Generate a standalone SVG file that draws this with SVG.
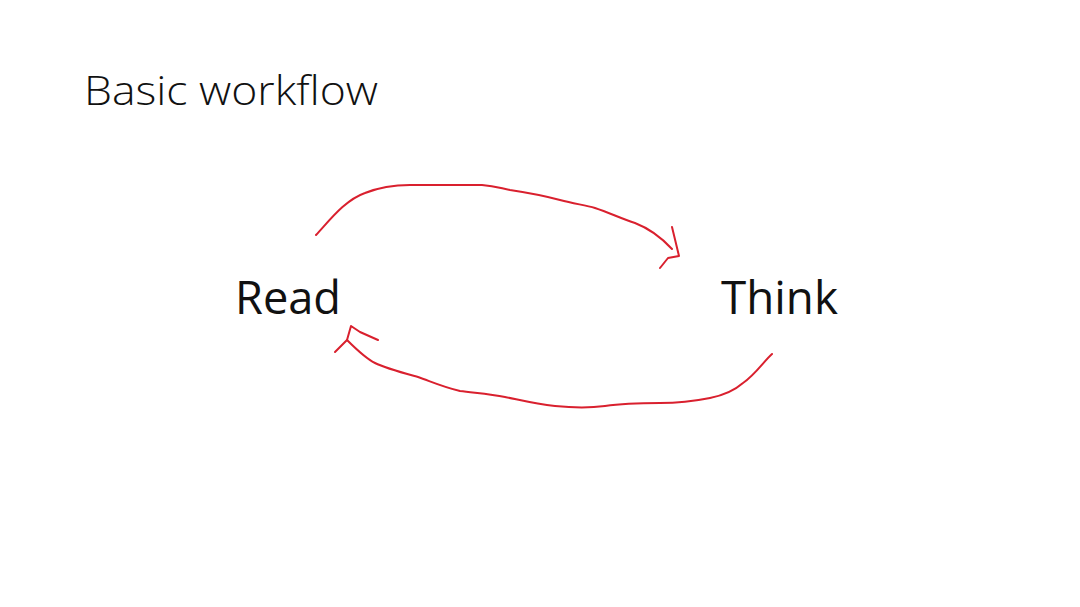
<svg xmlns="http://www.w3.org/2000/svg" width="1080" height="607" viewBox="0 0 1080 607">
<style>
.t{font-family:"Open Sans","Noto Sans","Liberation Sans",sans-serif;fill:#111}
.c{fill:none;stroke:#d9202e;stroke-width:2;stroke-linecap:round;stroke-linejoin:round}
</style>
<rect width="1080" height="607" fill="#fff"/>
<text class="t" x="84" y="105" font-size="40" font-weight="300" textLength="294" lengthAdjust="spacingAndGlyphs">Basic workflow</text>
<g id="read"><text class="t" x="235" y="314" font-size="46" textLength="106" lengthAdjust="spacingAndGlyphs">Read</text></g>
<g id="think"><text class="t" x="721" y="314" font-size="46" textLength="117" lengthAdjust="spacingAndGlyphs">Think</text></g>
<g id="connectors">
<path class="c" d="M316,235 C330,220 345,200 365,193 C380,187 395,185 410,185 L482,185 C495,186 500,188 510,190 C530,193 545,196 560,200 C575,204 585,205 595,208 C610,213 622,219 635,223 C648,228 660,236 672,249"/>
<path class="c" d="M672,227 L679,256 L668,258 L660,268"/>
<path class="c" d="M772,354 C765,360 755,375 743,383 C735,390 725,395 710,398 C695,401 680,403 660,403 C640,403 625,403 605,406 C590,408 575,408 555,406 C535,404 520,400 505,397 C490,394 475,393 460,391 C440,386 430,381 418,377 C400,372 385,368 375,363 C365,358 355,348 347,340"/>
<path class="c" d="M335,352 L347,340 L351,326 L360,332 L378,340"/>
</g>
</svg>
